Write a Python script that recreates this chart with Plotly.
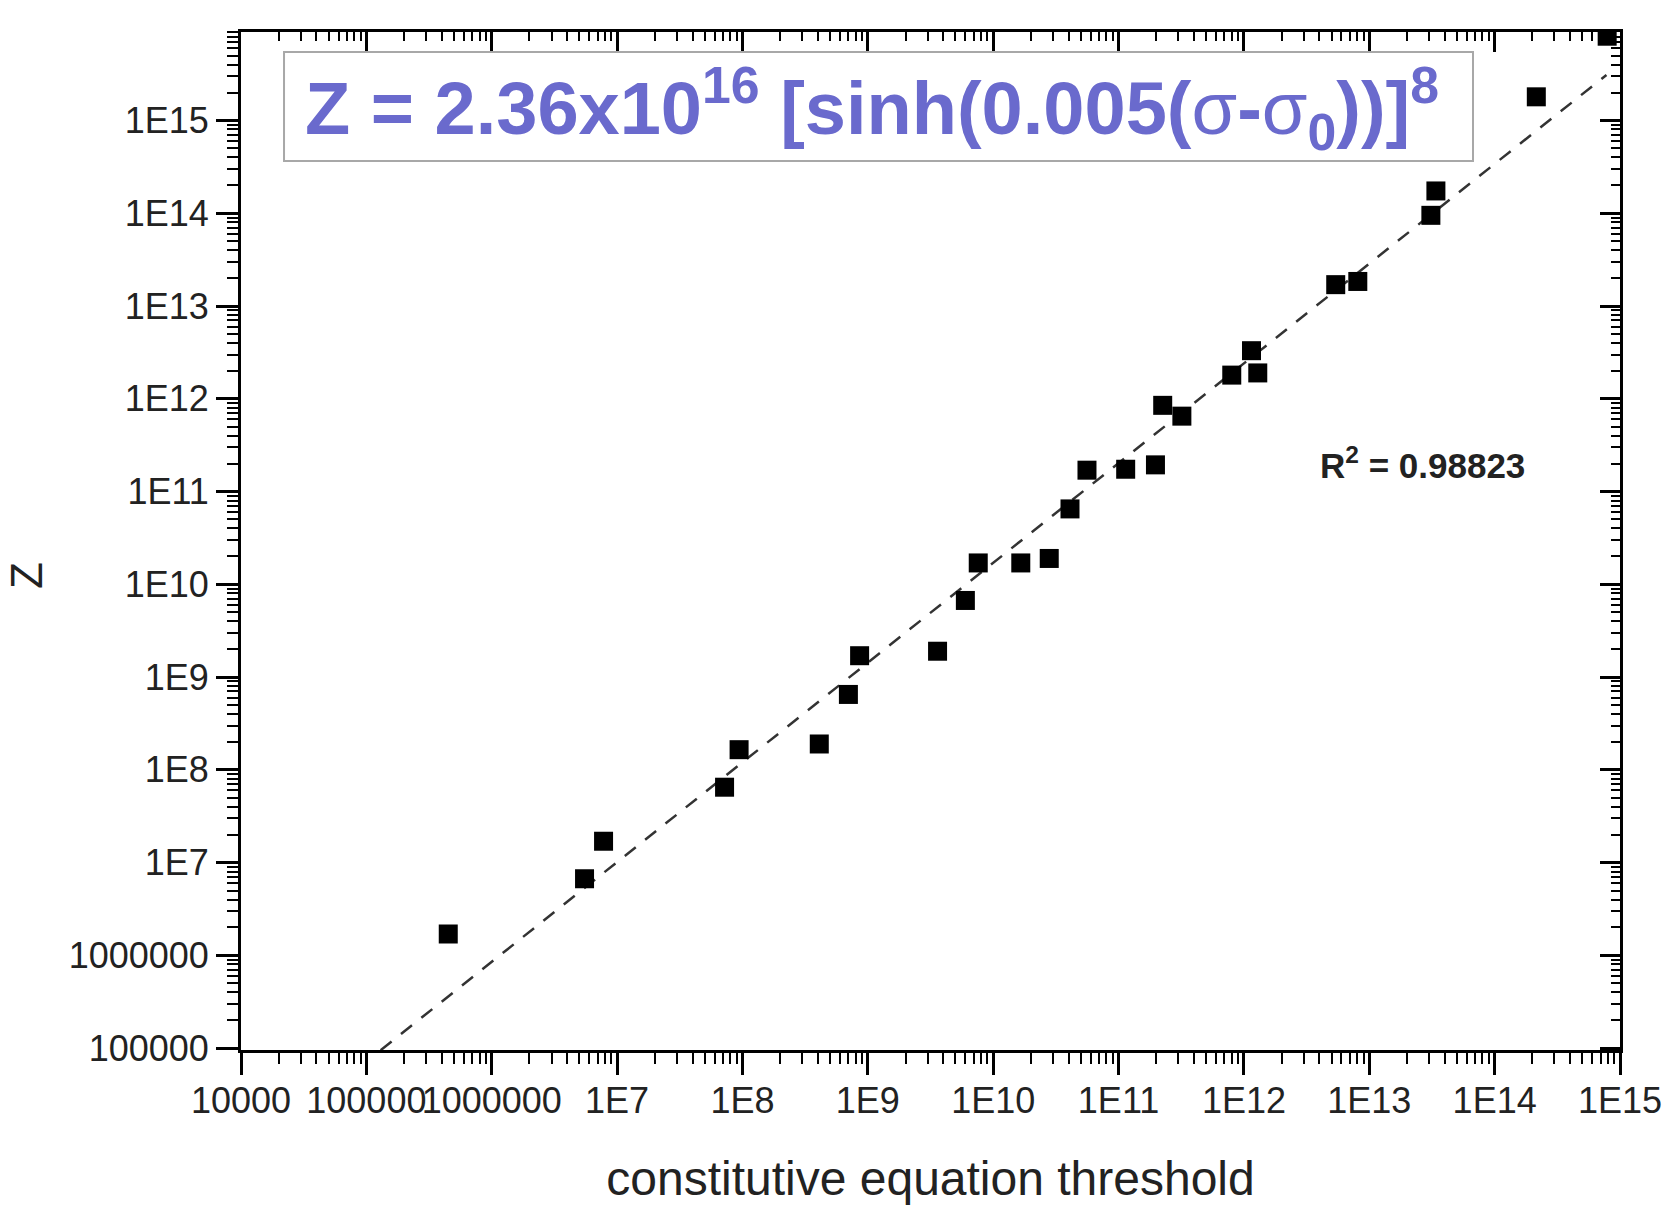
import plotly.graph_objects as go

# ---- data ----
x_vals = [4.5e5, 5.5e6, 7.8e6, 7.2e7, 9.4e7, 4.1e8, 7.0e8, 8.6e8, 3.6e9, 6.0e9,
          7.6e9, 1.66e10, 2.8e10, 4.1e10, 5.6e10, 1.14e11, 1.97e11, 2.25e11, 3.2e11,
          8.0e11, 1.15e12, 1.29e12, 5.4e12, 8.1e12, 3.1e13, 3.4e13, 2.15e14, 7.9e14]
y_vals = [1.7e6, 6.7e6, 1.7e7, 6.5e7, 1.65e8, 1.9e8, 6.5e8, 1.7e9, 1.9e9, 6.7e9,
          1.7e10, 1.7e10, 1.9e10, 6.5e10, 1.7e11, 1.74e11, 1.94e11, 8.5e11, 6.5e11,
          1.8e12, 3.3e12, 1.9e12, 1.7e13, 1.84e13, 9.5e13, 1.74e14, 1.8e15, 8.1e15]

fit_x = [1.3e5, 7.8e14]
fit_y = [9.5e4, 3.1e15]

x_tickvals = [1e4, 1e5, 1e6, 1e7, 1e8, 1e9, 1e10, 1e11, 1e12, 1e13, 1e14, 1e15]
x_ticktext = ["10000", "100000", "1000000", "1E7", "1E8", "1E9", "1E10", "1E11",
              "1E12", "1E13", "1E14", "1E15"]
y_tickvals = [1e5, 1e6, 1e7, 1e8, 1e9, 1e10, 1e11, 1e12, 1e13, 1e14, 1e15]
y_ticktext = ["100000", "1000000", "1E7", "1E8", "1E9", "1E10", "1E11", "1E12",
              "1E13", "1E14", "1E15"]

x_range_log = [4, 15]
y_range_log = [4.98, 15.954]

formula_text = ("Z = 2.36x10<sup>16</sup> [sinh(0.005(<span style='font-weight:normal'>σ</span>-"
                "<span style='font-weight:normal'>σ</span><sub>0</sub>))]<sup>8</sup>")
r2_text = "R<sup>2</sup> = 0.98823"
x_title = "constitutive equation threshold"
y_title = "Z"

# ---- styling ----
FONT = "Liberation Sans, Arial, sans-serif"
TXT = "#222222"
minor_x = [m * 10 ** k for k in range(4, 15) for m in range(2, 10)]
minor_y = [m * 10 ** k for k in range(4, 16) for m in range(2, 10)]

fig = go.Figure()

fig.add_trace(go.Scatter(
    x=fit_x, y=fit_y, mode="lines",
    line=dict(color="#333333", width=2.5, dash="14px,12px"),
    showlegend=False, hoverinfo="skip"))

fig.add_trace(go.Scatter(
    x=x_vals, y=y_vals, mode="markers",
    marker=dict(symbol="square", size=19, color="black", line=dict(width=0)),
    showlegend=False, cliponaxis=True))

# dummy trace to register mirrored top/right axes
fig.add_trace(go.Scatter(x=[], y=[], xaxis="x2", yaxis="y2", showlegend=False,
                         hoverinfo="skip"))

axis_common = dict(type="log", showgrid=False, zeroline=False, showline=True,
                   linecolor="black", linewidth=3, tickcolor="black", tickwidth=2.5,
                   automargin=False)

# page has an 8px body margin; figure sized/margined so the plot area lands
# at x 241..1620, y 32..1050 of the page
fig.update_layout(
    width=1664, height=1198,
    margin=dict(l=233, r=52, t=24, b=156),
    paper_bgcolor="white", plot_bgcolor="white",
    font=dict(family=FONT, color=TXT),
    xaxis=dict(**axis_common, range=x_range_log, tickmode="array",
               tickvals=x_tickvals, ticktext=x_ticktext, ticks="outside", ticklen=22,
               tickangle=0, tickfont=dict(size=36, color=TXT), ticklabelstandoff=-5,
               minor=dict(tickmode="array", tickvals=minor_x, ticks="outside",
                          ticklen=11, tickwidth=2, tickcolor="black"),
               title=dict(text=x_title, font=dict(size=48, color=TXT), standoff=42),
               mirror=False),
    yaxis=dict(**axis_common, range=y_range_log, tickmode="array",
               tickvals=y_tickvals, ticktext=y_ticktext, ticks="outside", ticklen=22,
               tickfont=dict(size=36, color=TXT),
               minor=dict(tickmode="array", tickvals=minor_y, ticks="outside",
                          ticklen=11, tickwidth=2, tickcolor="black"),
               mirror=False),
    xaxis2=dict(**axis_common, range=x_range_log, overlaying="x", side="top",
                anchor="y", tickmode="array", tickvals=x_tickvals,
                showticklabels=False, ticks="inside", ticklen=20,
                minor=dict(tickmode="array", tickvals=minor_x, ticks="inside",
                           ticklen=9, tickwidth=2, tickcolor="black")),
    yaxis2=dict(**axis_common, range=y_range_log, overlaying="y", side="right",
                anchor="x", tickmode="array", tickvals=y_tickvals,
                showticklabels=False, ticks="inside", ticklen=20,
                minor=dict(tickmode="array", tickvals=minor_y, ticks="inside",
                           ticklen=9, tickwidth=2, tickcolor="black")),
)

# formula box
fig.add_shape(type="rect", xref="paper", yref="paper",
              x0=0.0312, x1=0.8934, y0=0.8733, y1=0.9804,
              line=dict(color="#a8a8a8", width=2), fillcolor="white", layer="above")

fig.add_annotation(xref="paper", yref="paper", x=0.0450, y=0.925,
                   xanchor="left", yanchor="middle", showarrow=False,
                   text=formula_text,
                   font=dict(family=FONT, size=74, color="#6a6acd", weight="bold"))

fig.add_annotation(xref="paper", yref="paper", x=0.857, y=0.5766,
                   xanchor="center", yanchor="middle", showarrow=False,
                   text=r2_text,
                   font=dict(family=FONT, size=35, color=TXT, weight="bold"))

fig.add_annotation(xref="paper", yref="paper", x=(26 - 241) / 1379, y=(1050 - 576) / 1018,
                   xanchor="center", yanchor="middle", showarrow=False,
                   textangle=-90, text=y_title,
                   font=dict(family=FONT, size=44, color=TXT))

fig.write_html("out.html")
